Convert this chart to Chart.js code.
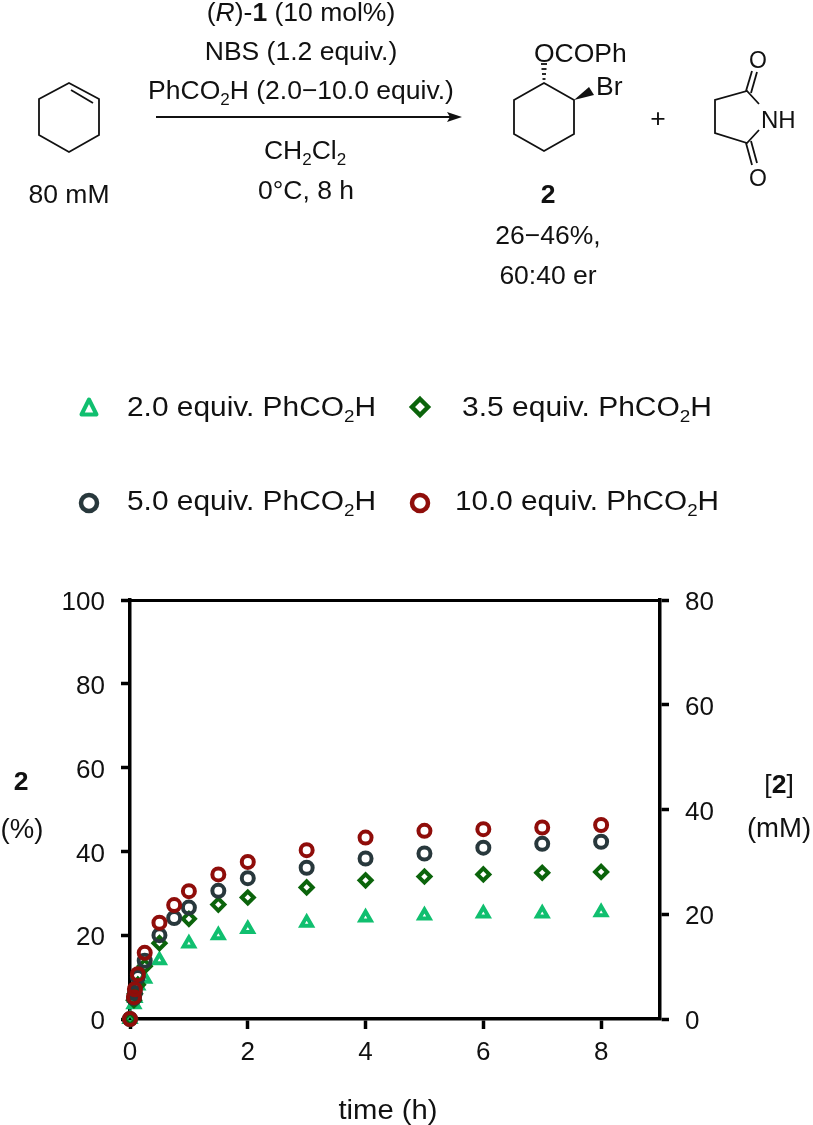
<!DOCTYPE html>
<html lang="en">
<head>
  <meta charset="UTF-8">
  <title>Bromoesterification kinetics</title>
  <script src="https://cdn.jsdelivr.net/npm/chart.js"></script>
  <style>
    html, body { margin: 0; padding: 0; background: #fff; }
    #page { position: relative; width: 813px; height: 1125px; overflow: hidden; }
    #plot { position: absolute; left: 0; top: 560px; }
    #scheme { position: absolute; left: 0; top: 0; }
    #scheme text { font-family: "Liberation Sans", Arial, sans-serif; font-size: 26.5px; fill: #111; }
    #scheme .mid { text-anchor: middle; }
    #scheme .b { font-weight: bold; }
    #scheme line, #scheme polyline, #scheme polygon.ring { stroke: #111; stroke-width: 1.8; fill: none; }
  </style>
</head>
<body>
<div id="page">
  <canvas id="plot" width="813" height="565"></canvas>

  <!-- Reaction scheme, legend and axis captions -->
  <svg id="scheme" width="813" height="1125">
    <!-- cyclohexene -->
    <polygon class="ring" points="69,83 99,99 99,135 69,152 39,135 39,99"/>
    <line x1="71" y1="90" x2="93" y2="103"/>
    <text class="mid" x="69" y="203">80 mM</text>

    <!-- conditions -->
    <text class="mid" x="301" y="21">(<tspan font-style="italic">R</tspan>)-<tspan class="b">1</tspan> (10 mol%)</text>
    <text class="mid" x="301" y="60">NBS (1.2 equiv.)</text>
    <text class="mid" x="301" y="99">PhCO<tspan dy="6" font-size="17">2</tspan><tspan dy="-6">H (2.0−10.0 equiv.)</tspan></text>
    <line x1="156" y1="117" x2="450" y2="117"/>
    <polygon points="462,117 447,112 450,117 447,122" fill="#111"/>
    <text class="mid" x="305" y="159">CH<tspan dy="6" font-size="17">2</tspan><tspan dy="-6">Cl</tspan><tspan dy="6" font-size="17">2</tspan></text>
    <text class="mid" x="306" y="199">0°C, 8 h</text>

    <!-- bromoester product -->
    <polygon class="ring" points="544,83 574,100 574,134 544,151 514,134 514,100"/>
    <polygon points="574,100 589,87 594,95" fill="#111"/>
    <line x1="542.5" y1="79" x2="545.5" y2="79"/>
    <line x1="542" y1="74" x2="546" y2="74"/>
    <line x1="541.5" y1="69" x2="546.5" y2="69"/>
    <line x1="541" y1="64" x2="547" y2="64"/>
    <text x="534" y="62">OCOPh</text>
    <text x="596" y="95">Br</text>
    <text class="mid b" x="548" y="203">2</text>
    <text class="mid" x="548" y="244">26−46%,</text>
    <text class="mid" x="548" y="284">60:40 er</text>
    <text class="mid" x="658" y="127">+</text>

    <!-- succinimide -->
    <polyline points="759,104 747,91 715,100 715,133 747,143 759,130"/>
    <line x1="746" y1="91" x2="752" y2="71"/>
    <line x1="751" y1="93" x2="757" y2="72"/>
    <line x1="746" y1="143" x2="752" y2="165"/>
    <line x1="751" y1="141" x2="757" y2="163"/>
    <text class="mid" x="758" y="68" style="font-size:23px">O</text>
    <text class="mid" x="758" y="186" style="font-size:23px">O</text>
    <text x="761" y="128" style="font-size:24px">NH</text>

    <!-- legend -->
    <polygon points="89,399.5 96.5,414.5 81.5,414.5" fill="none" stroke="#10bf6f" stroke-width="4" stroke-linejoin="round"/>
    <polygon points="420,399 428,407 420,415 412,407" fill="none" stroke="#0b640b" stroke-width="4.5"/>
    <circle cx="89" cy="503" r="8" fill="none" stroke="#28383c" stroke-width="4.5"/>
    <circle cx="420" cy="503" r="8" fill="none" stroke="#8f0d0a" stroke-width="4.5"/>
    <text x="127" y="416" style="font-size:27px" textLength="249" lengthAdjust="spacingAndGlyphs">2.0 equiv. PhCO<tspan dy="6" font-size="17">2</tspan><tspan dy="-6">H</tspan></text>
    <text x="462" y="416" style="font-size:27px" textLength="250" lengthAdjust="spacingAndGlyphs">3.5 equiv. PhCO<tspan dy="6" font-size="17">2</tspan><tspan dy="-6">H</tspan></text>
    <text x="127" y="510" style="font-size:27px" textLength="249" lengthAdjust="spacingAndGlyphs">5.0 equiv. PhCO<tspan dy="6" font-size="17">2</tspan><tspan dy="-6">H</tspan></text>
    <text x="455" y="510" style="font-size:27px" textLength="264" lengthAdjust="spacingAndGlyphs">10.0 equiv. PhCO<tspan dy="6" font-size="17">2</tspan><tspan dy="-6">H</tspan></text>

    <!-- axis captions -->
    <text class="mid b" x="21" y="790">2</text>
    <text class="mid" x="22" y="838" style="font-size:27.5px">(%)</text>
    <text class="mid" x="779" y="793">[<tspan class="b">2</tspan>]</text>
    <text class="mid" x="779" y="837" style="font-size:27.5px">(mM)</text>
    <text class="mid" x="388" y="1119" style="font-size:27px" textLength="99" lengthAdjust="spacingAndGlyphs">time (h)</text>
  </svg>
</div>

<script>
  // time points (h), 2.0 and 3.5 equiv. runs skipped the 0.75 h sample
  const timesShort = [0, 0.067, 0.083, 0.133, 0.25, 0.5, 1, 1.5, 2, 3, 4, 5, 6, 7, 8];
  const timesLong = [0, 0.067, 0.083, 0.133, 0.25, 0.5, 0.75, 1, 1.5, 2, 3, 4, 5, 6, 7, 8];

  // yield of 2 (%)
  const equiv2 = [0, 3.5, 5, 8, 9.6, 14, 18, 20, 21.5, 23, 24.2, 24.7, 25.2, 25.2, 25.5];
  const equiv35 = [0, 4.5, 6, 8.2, 12.6, 18.1, 23.9, 27.3, 29, 31.4, 33.1, 34, 34.5, 34.9, 35.1];
  const equiv5 = [0, 5, 6.2, 10, 13.9, 20, 24.1, 26.6, 30.6, 33.6, 36.1, 38.3, 39.5, 40.9, 41.8, 42.3];
  const equiv10 = [0, 5.2, 7.1, 10.7, 15.8, 23, 27.2, 30.5, 34.5, 37.5, 40.3, 43.3, 44.9, 45.3, 45.7, 46.3];

  const xTicks = [0, 2, 4, 6, 8];
  const leftTicks = [0, 20, 40, 60, 80, 100];
  const rightTicks = [0, 20, 40, 60, 80];

  const toPoints = (xs, ys) => xs.map((x, i) => ({ x: x, y: ys[i] }));
  const tickFont = { family: '"Liberation Sans", Arial, sans-serif', size: 26 };
  const useTicks = values => axis => { axis.ticks = values.map(v => ({ value: v })); };

  function series(label, xs, ys, color, style, radius, width, order) {
    return {
      label: label,
      data: toPoints(xs, ys),
      yAxisID: 'y',
      showLine: false,
      clip: false,
      pointStyle: style,
      pointRadius: radius,
      pointBorderWidth: width,
      pointBorderColor: color,
      pointBackgroundColor: 'transparent',
      order: order
    };
  }

  new Chart(document.getElementById('plot'), {
    type: 'scatter',
    data: {
      datasets: [
        series('2.0 equiv.', timesShort, equiv2, '#10bf6f', 'triangle', 6, 4, 4),
        series('3.5 equiv.', timesShort, equiv35, '#0b640b', 'rectRot', 6, 4, 3),
        series('5.0 equiv.', timesLong, equiv5, '#28383c', 'circle', 6, 4, 2),
        series('10.0 equiv.', timesLong, equiv10, '#8f0d0a', 'circle', 6, 4, 1)
      ]
    },
    options: {
      responsive: false,
      animation: false,
      events: [],
      layout: { padding: { top: 40 } },
      plugins: { legend: { display: false }, tooltip: { enabled: false } },
      scales: {
        x: {
          type: 'linear',
          min: 0,
          max: 9,
          afterBuildTicks: useTicks(xTicks),
          afterFit: axis => { axis.height = 106; },
          border: { color: '#000', width: 3.5 },
          grid: { drawOnChartArea: false, color: '#000', tickLength: 10, tickWidth: 3.5 },
          ticks: { color: '#111', font: tickFont, padding: 8, maxRotation: 0, autoSkip: false }
        },
        // top edge of the frame
        x2: {
          type: 'linear',
          position: 'top',
          min: 0,
          max: 9,
          afterFit: axis => { axis.height = 0; },
          border: { color: '#000', width: 3 },
          grid: { display: false },
          ticks: { display: false }
        },
        y: {
          min: 0,
          max: 100,
          afterBuildTicks: useTicks(leftTicks),
          afterFit: axis => { axis.width = 130; },
          border: { color: '#000', width: 3.5 },
          grid: { drawOnChartArea: false, color: '#000', tickLength: 9, tickWidth: 3.5 },
          ticks: { color: '#111', font: tickFont, padding: 16, labelOffset: 3, autoSkip: false }
        },
        y1: {
          position: 'right',
          min: 0,
          max: 80,
          afterBuildTicks: useTicks(rightTicks),
          afterFit: axis => { axis.width = 153; },
          border: { color: '#000', width: 3.5 },
          grid: { drawOnChartArea: false, color: '#000', tickLength: 9, tickWidth: 3.5 },
          ticks: { color: '#111', font: tickFont, padding: 16, labelOffset: 3, autoSkip: false }
        }
      }
    }
  });
</script>
</body>
</html>
